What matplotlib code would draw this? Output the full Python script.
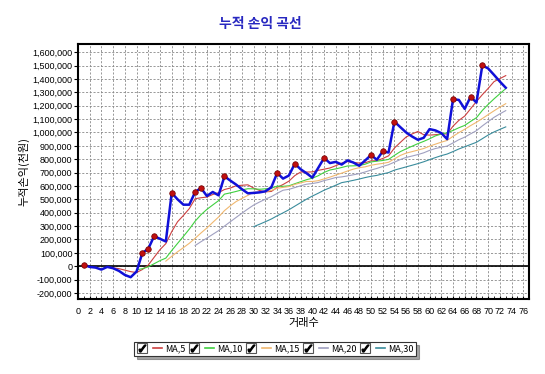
import matplotlib
matplotlib.use('Agg')
import matplotlib.pyplot as plt
import pandas as pd
from matplotlib.lines import Line2D
from matplotlib.legend_handler import HandlerTuple
from matplotlib.ticker import MultipleLocator, FuncFormatter

plt.rcParams['font.family'] = ['Noto Sans CJK KR', 'DejaVu Sans']

# 데이터
trade_no = list(range(1, 74))
equity = [10000, -5000, -10000, -25000, -5000, -15000, -35000, -65000, -82000, -40000,
          100000, 130000, 225000, 205000, 185000, 548000, 500000, 460000, 460000, 555000,
          585000, 525000, 555000, 530000, 672000, 640000, 610000, 575000, 545000, 548000,
          552000, 560000, 590000, 697000, 655000, 678000, 766000, 725000, 695000, 662000,
          735000, 809000, 771000, 780000, 760000, 791000, 775000, 751000, 790000, 831000,
          796000, 858000, 850000, 1081000, 1040000, 1000000, 970000, 945000, 960000, 1025000,
          1015000, 995000, 950000, 1248000, 1243000, 1176000, 1267000, 1223000, 1501000, 1478000,
          1430000, 1380000, 1334000]
ma_periods = [5, 10, 15, 20, 30]
ma_colors = ['#cc4040', '#40d040', '#f0b870', '#a0a0c0', '#3a8c9c']
ma_labels = ['MA,5', 'MA,10', 'MA,15', 'MA,20', 'MA,30']

s = pd.Series(equity, index=trade_no)
prev_peak = s.shift(1).cummax().fillna(-1e12)
new_high = s[s > prev_peak]

fig = plt.figure(figsize=(5.45, 3.74), dpi=100)
ax = fig.add_axes([0.143, 0.2005, 0.828, 0.6815])

handles = []
for p, c, lab in zip(ma_periods, ma_colors, ma_labels):
    ma = s.rolling(p).mean()
    ax.plot(ma.index, ma.values, color=c, lw=0.8, zorder=3)
    box = Line2D([], [], marker='s', ls='none', markersize=7, markerfacecolor='white',
                 markeredgecolor='#555555', markeredgewidth=0.8)
    chk = Line2D([], [], marker=r'$\checkmark$', ls='none', markersize=5, color='black')
    handles.append((box, chk))
    handles.append(Line2D([], [], color=c, lw=1.2))

ax.plot(s.index, s.values, color='#1010d8', lw=1.8, zorder=4)
ax.scatter(new_high.index, new_high.values, s=16, color='#c01010', edgecolors='#700000',
           linewidths=0.5, zorder=5)
ax.axhline(0, color='black', lw=1.2, zorder=2)

ax.set_xlim(0, 77)
ax.set_ylim(-245000, 1660000)
ax.xaxis.set_major_locator(MultipleLocator(2))
ax.xaxis.set_minor_locator(MultipleLocator(1))
ax.yaxis.set_major_locator(MultipleLocator(100000))
ax.yaxis.set_major_formatter(FuncFormatter(lambda v, pos: f'{int(round(v)):,}'))
ax.tick_params(axis='x', which='both', direction='in', length=2, labelsize=6.5, pad=6)
ax.tick_params(axis='y', direction='out', length=3, labelsize=6.5, pad=1)
for lab in ax.get_xticklabels() + ax.get_yticklabels():
    lab.set_family(['Liberation Sans', 'DejaVu Sans'])
ax.grid(True, which='major', color='#888888', ls=(0, (2.5, 2)), lw=0.6)
for sp in ax.spines.values():
    sp.set_linewidth(1.5)

fig.text(0.477, 0.935, '누적 손익 곡선', ha='center', va='center', fontsize=10,
         fontweight='bold', color='#2828c0')
ax.set_xlabel('거래수', fontsize=8, labelpad=1)
ax.set_ylabel('누적손익(천원)', fontsize=8, labelpad=2)

labels = []
for lab in ma_labels:
    labels.append('')
    labels.append(lab)
leg = fig.legend(handles, labels, loc='center', bbox_to_anchor=(0.505, 0.067), ncol=10,
                 fontsize=6.5, frameon=True, fancybox=False, shadow=True,
                 handler_map={tuple: HandlerTuple(ndivide=1)},
                 handlelength=1.0, handletextpad=0.3, columnspacing=0.45,
                 borderpad=0.3, edgecolor='#333333')
leg.get_frame().set_linewidth(0.8)

fig.savefig('out.png', dpi=100)
